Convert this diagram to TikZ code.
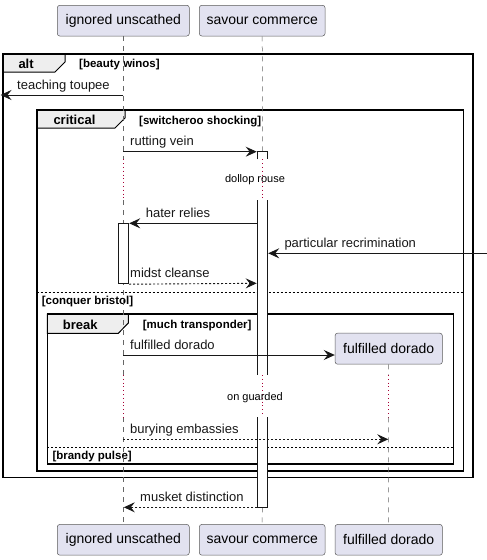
\documentclass[tikz,border=0pt]{standalone}
\usepackage{fontspec}
\setmainfont{Liberation Sans}
\usetikzlibrary{arrows.meta}
\definecolor{partfill}{HTML}{E2E2F0}
\definecolor{partborder}{HTML}{5A5A5A}
\definecolor{tabfill}{HTML}{EEEEEE}
\definecolor{delaycol}{HTML}{A80036}
\definecolor{linecol}{HTML}{181818}
\tikzset{
  part/.style={draw=partborder, line width=0.5pt, fill=partfill, rounded corners=2.5pt,
    minimum height=30.7pt, inner sep=0pt, font=\fontsize{14}{16}\selectfont},
  lifeline/.style={draw=gray!80!black, line width=0.5pt, dash pattern=on 5pt off 5pt},
  delayline/.style={draw=delaycol, line width=0.8pt, dash pattern=on 0.8pt off 3pt},
  msg/.style={draw=linecol, line width=0.9pt, -{Stealth[length=11pt,width=10pt,inset=4pt]}},
  rmsg/.style={msg, dash pattern=on 2pt off 2pt},
  mlabel/.style={anchor=base west, inner sep=0pt, font=\fontsize{13}{15}\selectfont, text=linecol},
  guard/.style={anchor=base west, inner sep=0pt, font=\bfseries\fontsize{11.5}{13}\selectfont},
  ftitle/.style={anchor=base west, inner sep=0pt, font=\bfseries\fontsize{13}{15}\selectfont},
  dtext/.style={inner sep=0pt, font=\fontsize{11}{13}\selectfont},
  framebox/.style={draw=black, line width=1.6pt},
  tabshape/.style={draw=black, line width=1pt, fill=tabfill},
  divider/.style={draw=black, line width=0.8pt, dash pattern=on 2pt off 2pt},
  actbox/.style={draw=linecol, line width=0.9pt, fill=white}
}
\begin{document}
\begin{tikzpicture}[x=1pt, y={(0pt,-1pt)}]
\useasboundingbox (0,0) rectangle (487,560);

% participants
\node[part, minimum width=132pt] (iuT) at (123.3,20.65) {ignored unscathed};
\node[part, minimum width=125.7pt] (scT) at (262.2,20.65) {savour commerce};
\node[part, minimum width=132pt] (iuB) at (123.3,539.8) {ignored unscathed};
\node[part, minimum width=125.7pt] (scB) at (262.2,539.8) {savour commerce};
\node[part, minimum width=107.3pt] (fdB) at (388.7,539.8) {fulfilled dorado};

% lifeline coordinates
\coordinate (iu1) at (123.3,159.3);
\coordinate (iu2) at (123.3,200);
\coordinate (iu3) at (123.3,375);
\coordinate (iu4) at (123.3,417.3);
\coordinate (sc1) at (262.7,159.3);
\coordinate (sc2) at (262.7,200);
\coordinate (sc3) at (262.7,375);
\coordinate (sc4) at (262.7,417.3);
\coordinate (fd3) at (388.3,375);
\coordinate (fd4) at (388.3,417.3);

% frames (drawn first)
\draw[tabshape] (3,54) -- (65,54) -- (65,62) -- (55,72) -- (3,72) -- cycle;
\draw[framebox] (3,54) rectangle (472.7,477.3);
\node[ftitle] (altT) at (18.3,68.3) {alt};
\node[guard] (altG) at (79,67.5) {[beauty winos]};

\draw[tabshape] (36.7,110) -- (125,110) -- (125,118) -- (115,128) -- (36.7,128) -- cycle;
\draw[framebox] (36.7,110) rectangle (463.3,470.7);
\node[ftitle] (crT) at (53.3,124.8) {critical};
\node[guard] (crG) at (139,124) {[switcheroo shocking]};
\draw[divider] (36.7,292.3) -- (463.3,292.3);
\node[guard] (cbG) at (41.7,304) {[conquer bristol]};

\draw[tabshape] (47.3,314) -- (128.3,314) -- (128.3,323) -- (118.3,333.3) -- (47.3,333.3) -- cycle;
\draw[framebox] (47.3,314) rectangle (453.3,464);
\node[ftitle] (brT) at (62.7,329) {break};
\node[guard] (brG) at (142.7,328) {[much transponder]};
\draw[divider] (47.3,447.7) -- (453.3,447.7);
\node[guard] (bpG) at (52.3,459.3) {[brandy pulse]};

% lifelines
\draw[lifeline] (iuT.south) -- (iu1);
\draw[lifeline] (iu2) -- (iu3);
\draw[lifeline] (iu4) -- (iuB.north);
\draw[delayline] (iu1) -- (iu2);
\draw[delayline] (iu3) -- (iu4);
\draw[lifeline] (scT.south) -- (sc1);
\draw[lifeline] (sc2) -- (sc3);
\draw[lifeline] (sc4) -- (scB.north);
\draw[delayline] (sc1) -- (sc2);
\draw[delayline] (sc3) -- (sc4);

% created participant
\node[part, minimum width=107.3pt, minimum height=31pt] (fdT) at (388.7,348.7) {fulfilled dorado};
\draw[lifeline] (fdT.south) -- (fd3);
\draw[delayline] (fd3) -- (fd4);
\draw[lifeline] (fd4) -- (fdB.north);

% activation boxes on savour commerce (three pieces, open at the gaps)
\draw[actbox] (257.3,159.3) -- (257.3,151.3) -- (267.7,151.3) -- (267.7,159.3);
\fill[white] (257.3,200) rectangle (267.7,375);
\draw[actbox] (257.3,200) -- (257.3,375) (267.7,200) -- (267.7,375);
\fill[white] (257.3,417.3) rectangle (267.7,507.3);
\draw[actbox] (257.3,417.3) -- (257.3,507.3) -- (267.7,507.3) -- (267.7,417.3);

% activation on ignored unscathed
\node[actbox, minimum width=10pt, minimum height=60pt, inner sep=0pt, anchor=north west] (iuA) at (118.3,223.3) {};

% delay texts
\node[dtext] (d1) at (255,180) {dollop rouse};
\node[dtext] (d2) at (255,397.3) {on guarded};

% messages
\coordinate (tt1) at (123.3,95);
\coordinate (tt2) at (0.5,95);
\draw[msg] (tt1) -- (tt2);
\node[mlabel] at (17,89) {teaching toupee};

\coordinate (rv1) at (123.3,151.7);
\coordinate (rv2) at (256.7,151.7);
\draw[msg] (rv1) -- (rv2);
\node[mlabel] at (130,145.7) {rutting vein};

\coordinate (hr1) at (257.3,223.3);
\draw[msg] (hr1) -- (iuA.north east);
\node[mlabel] at (145.7,217.3) {hater relies};

\coordinate (pr1) at (487,253.3);
\coordinate (pr2) at (268.2,253.3);
\draw[msg] (pr1) -- (pr2);
\node[mlabel] at (284.3,247.3) {particular recrimination};

\coordinate (mc2) at (256.7,283.3);
\draw[rmsg] (iuA.south east) -- (mc2);
\node[mlabel] at (130,277.3) {midst cleanse};

\coordinate (fd1) at (123.3,355);
\draw[msg] (fd1) -- (fdT.west |- fd1);
\node[mlabel] at (130,349) {fulfilled dorado};

\coordinate (be1) at (123.3,439.3);
\coordinate (be2) at (388.3,439.3);
\draw[rmsg] (be1) -- (be2);
\node[mlabel] at (130,433.3) {burying embassies};

\coordinate (md1) at (257.3,507.3);
\coordinate (md2) at (123.8,507.3);
\draw[rmsg] (md1) -- (md2);
\node[mlabel] at (140,501.3) {musket distinction};
\end{tikzpicture}
\end{document}
